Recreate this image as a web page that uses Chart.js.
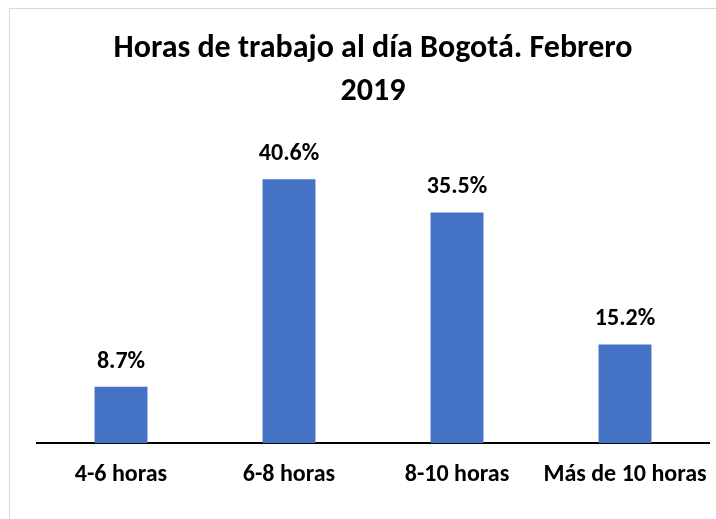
<!DOCTYPE html>
<html>
<head>
<meta charset="utf-8">
<script src="https://cdn.jsdelivr.net/npm/chart.js@4.4.1/dist/chart.umd.min.js"></script>
<style>
  html, body { margin: 0; padding: 0; background: #fff; overflow: hidden; width: 716px; height: 519px; }
  #wrap { position: absolute; left: 9px; top: 8px; width: 726px; height: 530px; border-left: 1px solid #d9d9d9; border-top: 1px solid #d9d9d9; box-sizing: border-box; }
  canvas { display: block; }
</style>
</head>
<body>
<div id="wrap"><canvas id="c" width="724" height="510"></canvas></div>
<script>
const categories = ["4-6 horas", "6-8 horas", "8-10 horas", "Más de 10 horas"];
const values = [8.7, 40.6, 35.5, 15.2];
const valueLabels = ["8.7%", "40.6%", "35.5%", "15.2%"];
const titleLines = ["Horas de trabajo al día Bogotá. Febrero", "2019"];

const FONT = "Carlito, 'Liberation Sans Narrow', 'Open Sans', sans-serif";

const labelPlugin = {
  id: 'barLabels',
  afterDatasetsDraw(chart) {
    const ctx = chart.ctx;
    const meta = chart.getDatasetMeta(0);
    ctx.save();
    ctx.font = "bold 24px " + FONT;
    ctx.fillStyle = "#000";
    ctx.textAlign = "center";
    ctx.textBaseline = "middle";
    meta.data.forEach((bar, i) => {
      ctx.fillText(valueLabels[i], bar.x, bar.y - 25);
    });
    ctx.restore();
  }
};

new Chart(document.getElementById('c'), {
  type: 'bar',
  data: {
    labels: categories,
    datasets: [{
      data: values,
      backgroundColor: '#4472C4',
      barPercentage: 0.315,
      categoryPercentage: 1.0
    }]
  },
  options: {
    responsive: false,
    animation: false,
    devicePixelRatio: 1,
    layout: { padding: { left: 27, right: 25, top: 0, bottom: 13 } },
    plugins: {
      legend: { display: false },
      tooltip: { enabled: false },
      title: {
        display: true,
        text: titleLines,
        color: '#000',
        font: { family: FONT, size: 32, weight: 'bold', lineHeight: 1.34 },
        padding: { top: 19, bottom: 37 }
      }
    },
    scales: {
      x: {
        grid: { display: false, drawTicks: false },
        border: { display: true, color: '#000', width: 2 },
        ticks: { color: '#000', font: { family: FONT, size: 24, weight: 'bold' }, padding: 17, maxRotation: 0, autoSkip: false }
      },
      y: {
        display: false,
        min: 0,
        max: 45
      }
    }
  },
  plugins: [labelPlugin]
});
</script>
</body>
</html>
